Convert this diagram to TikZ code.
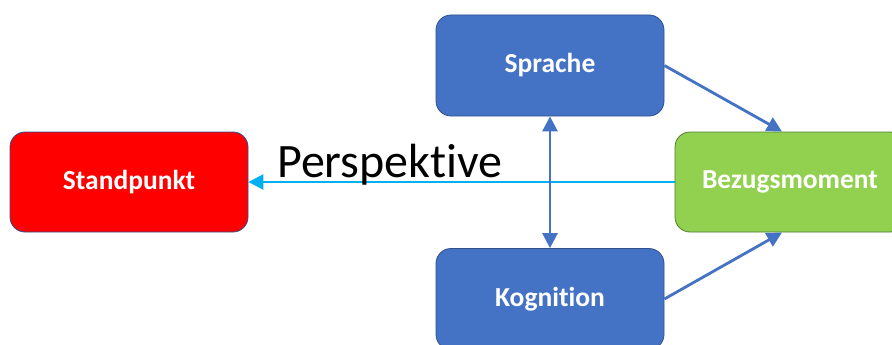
\documentclass[tikz,border=0pt]{standalone}
\usepackage{fontspec}
\setmainfont[Ligatures={NoCommon,NoContextual}]{Carlito}
\usetikzlibrary{arrows.meta}
\definecolor{boxblue}{HTML}{4472C4}
\definecolor{boxblueline}{HTML}{2F528F}
\definecolor{boxred}{HTML}{FF0000}
\definecolor{boxgreen}{HTML}{92D050}
\definecolor{boxgreenline}{HTML}{507E32}
\definecolor{perscyan}{HTML}{00B0F0}
\tikzset{
  box/.style={rounded corners=15pt, minimum width=228pt, minimum height=101pt, inner sep=0pt,
    line width=0.8pt, text=white, font=\fontsize{27.5}{30}\selectfont\bfseries},
  bluebox/.style={box, fill=boxblue, draw=boxblueline},
  redbox/.style={box, fill=boxred, draw=boxblueline, minimum width=238pt, minimum height=100pt},
  greenbox/.style={box, fill=boxgreen, draw=boxgreenline, minimum width=230pt, minimum height=100pt},
  bluearrow/.style={draw=boxblue, line width=2.8pt, -{Triangle[length=15pt,width=15pt]}},
  cyanarrow/.style={draw=perscyan, line width=2.5pt, -{Triangle[length=15pt,width=15pt]}}
}
\begin{document}
\begin{tikzpicture}[x=1pt,y=-1pt]
\useasboundingbox (0,0) rectangle (892,345);
\clip (0,0) rectangle (892,345);
\fill[white] (0,0) rectangle (892,345);
\node[redbox] (stand) at (129,182) {Standpunkt};
\node[bluebox] (spr) at (550,65.5) {\raisebox{-2pt}{Sprache}};
\node[bluebox] (kog) at (550,299) {\raisebox{-2pt}{Kognit\kern0pt ion}};
\node[greenbox] (bez) at (790,182) {Bezugsmoment};
\draw[cyanarrow] (bez.west) -- (stand.east);
\node[anchor=base west, inner sep=0pt, font=\fontsize{48}{50}\selectfont] (pers) at (277,177) {Perspekt\kern0pt ive};
\draw[bluearrow] (spr.east) -- (782,131.5) coordinate (bt);
\draw[bluearrow] (kog.east) -- (782,232.5) coordinate (bb);
\draw[bluearrow, {Triangle[length=15pt,width=15pt]}-{Triangle[length=15pt,width=15pt]}] (spr.south) -- (kog.north);
\end{tikzpicture}
\end{document}
